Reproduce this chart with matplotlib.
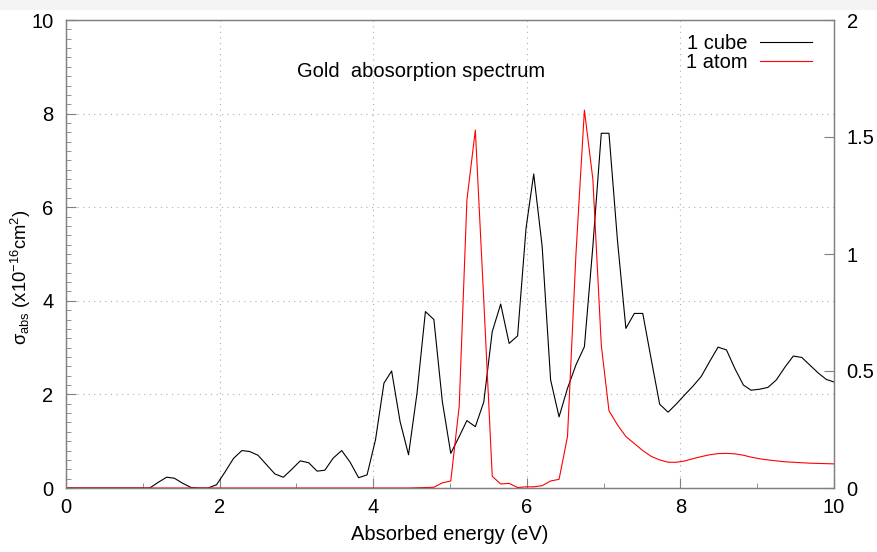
import matplotlib
matplotlib.use('Agg')
import matplotlib.pyplot as plt
from matplotlib.patches import Rectangle
from matplotlib.ticker import MultipleLocator

plt.rcParams['font.family'] = ['Liberation Sans', 'DejaVu Sans']
plt.rcParams['mathtext.fontset'] = 'custom'
plt.rcParams['mathtext.rm'] = 'Liberation Sans'
plt.rcParams['mathtext.it'] = 'Liberation Sans:italic'

# Energy grid (eV), step of 0.004 Ha
energy = [0.00, 0.11, 0.22, 0.33, 0.44, 0.54, 0.65, 0.76, 0.87, 0.98,
          1.09, 1.20, 1.31, 1.41, 1.52, 1.63, 1.74, 1.85, 1.96, 2.07,
          2.18, 2.29, 2.39, 2.50, 2.61, 2.72, 2.83, 2.94, 3.05, 3.16,
          3.27, 3.37, 3.48, 3.59, 3.70, 3.81, 3.92, 4.03, 4.14, 4.24,
          4.35, 4.46, 4.57, 4.68, 4.79, 4.90, 5.01, 5.12, 5.22, 5.33,
          5.44, 5.55, 5.66, 5.77, 5.88, 5.99, 6.09, 6.20, 6.31, 6.42,
          6.53, 6.64, 6.75, 6.86, 6.97, 7.07, 7.18, 7.29, 7.40, 7.51,
          7.62, 7.73, 7.84, 7.95, 8.05, 8.16, 8.27, 8.38, 8.49, 8.60,
          8.71, 8.82, 8.92, 9.03, 9.14, 9.25, 9.36, 9.47, 9.58, 9.69,
          9.80, 9.90, 10.01]

# 1 cube, left axis (x10^-16 cm^2)
cube = [0.00, 0.00, 0.00, 0.00, 0.00, 0.00, 0.00, 0.00, 0.00, 0.00,
        0.00, 0.12, 0.23, 0.21, 0.10, 0.01, 0.00, 0.00, 0.07, 0.34,
        0.63, 0.80, 0.78, 0.70, 0.50, 0.30, 0.23, 0.40, 0.58, 0.54,
        0.36, 0.38, 0.64, 0.80, 0.55, 0.22, 0.28, 1.03, 2.24, 2.50,
        1.42, 0.71, 2.02, 3.77, 3.60, 1.85, 0.74, 1.10, 1.44, 1.31,
        1.84, 3.34, 3.93, 3.09, 3.25, 5.55, 6.71, 5.16, 2.31, 1.52,
        2.13, 2.63, 3.02, 5.16, 7.58, 7.58, 5.30, 3.41, 3.73, 3.73,
        2.75, 1.79, 1.62, 1.80, 1.98, 2.17, 2.38, 2.70, 3.01, 2.95,
        2.55, 2.20, 2.09, 2.11, 2.15, 2.31, 2.58, 2.82, 2.79, 2.62,
        2.45, 2.32, 2.26]

# 1 atom, right axis
atom = [0.000, 0.000, 0.000, 0.000, 0.000, 0.000, 0.000, 0.000, 0.000, 0.000,
        0.000, 0.000, 0.000, 0.000, 0.000, 0.000, 0.000, 0.000, 0.000, 0.000,
        0.000, 0.000, 0.000, 0.000, 0.000, 0.000, 0.000, 0.000, 0.000, 0.000,
        0.000, 0.000, 0.000, 0.000, 0.000, 0.000, 0.000, 0.000, 0.000, 0.000,
        0.000, 0.000, 0.001, 0.002, 0.003, 0.022, 0.030, 0.350, 1.230, 1.530,
        0.800, 0.050, 0.017, 0.020, 0.002, 0.005, 0.005, 0.010, 0.030, 0.037,
        0.220, 1.000, 1.615, 1.320, 0.610, 0.330, 0.270, 0.220, 0.190, 0.160,
        0.135, 0.120, 0.110, 0.110, 0.115, 0.125, 0.134, 0.142, 0.147, 0.148,
        0.146, 0.140, 0.132, 0.125, 0.120, 0.116, 0.112, 0.110, 0.108, 0.106,
        0.105, 0.104, 0.103]

right_ticks = [0, 0.5, 1, 1.5, 2]
right_labels = ['0', '0.5', '1', '1.5', '2']

frame_col = '#808080'
fs = 14.5

fig = plt.figure(figsize=(8.77, 5.52), dpi=100)
fig.patches.append(Rectangle((0, 542 / 552), 1, 10 / 552, transform=fig.transFigure,
                             facecolor='#f4f4f4', edgecolor='none', zorder=0))
ax = fig.add_axes([66 / 877, 64 / 552, 768 / 877, 468 / 552])
ax2 = ax.twinx()

l1, = ax.plot(energy, cube, color='black', lw=0.8, label='1 cube')
l2, = ax2.plot(energy, atom, color='#ff0000', lw=0.8, label='1 atom')

ax.set_xlim(0, 10)
ax.set_ylim(0, 10)
ax2.set_ylim(0, 2)

ax.xaxis.set_major_locator(MultipleLocator(2))
ax.xaxis.set_minor_locator(MultipleLocator(1))
ax.yaxis.set_major_locator(MultipleLocator(2))
ax.yaxis.set_minor_locator(MultipleLocator(0.2))
ax2.set_yticks(right_ticks)
ax2.set_yticklabels(right_labels)

ax.grid(True, which='major', color='#b0b0b0', linestyle=(0, (1, 4)), lw=0.8)

for a in (ax, ax2):
    for s in a.spines.values():
        s.set_color(frame_col)
        s.set_linewidth(0.9)
ax.tick_params(which='both', direction='in', color=frame_col, labelsize=fs,
               top=False, right=False)
ax.tick_params(which='major', length=7, pad=9)
ax.tick_params(which='minor', length=3.5)
ax.tick_params(axis='x', which='major', pad=7)
ax2.tick_params(which='both', direction='in', color=frame_col, labelsize=fs, pad=9)
ax2.tick_params(which='major', length=7)

ax.set_xlabel('Absorbed energy (eV)', fontsize=fs, labelpad=6)
ax.set_ylabel(r'σ$_{\mathrm{abs}}$ (x10$^{-16}$cm$^{2}$)', fontsize=13.2)
ax.yaxis.set_label_coords(-0.043, 0.45)

ax.text(4.62, 8.89, 'Gold  abosorption spectrum', fontsize=fs, ha='center', va='center')

leg = ax.legend([l1, l2], ['1 cube', '1 atom'], loc='upper right',
                bbox_to_anchor=(0.99, 1.0), frameon=False, markerfirst=False,
                fontsize=fs, handlelength=2.6, handletextpad=0.6,
                labelspacing=0.0, borderaxespad=0.3)

fig.savefig('out.png', dpi=100)
